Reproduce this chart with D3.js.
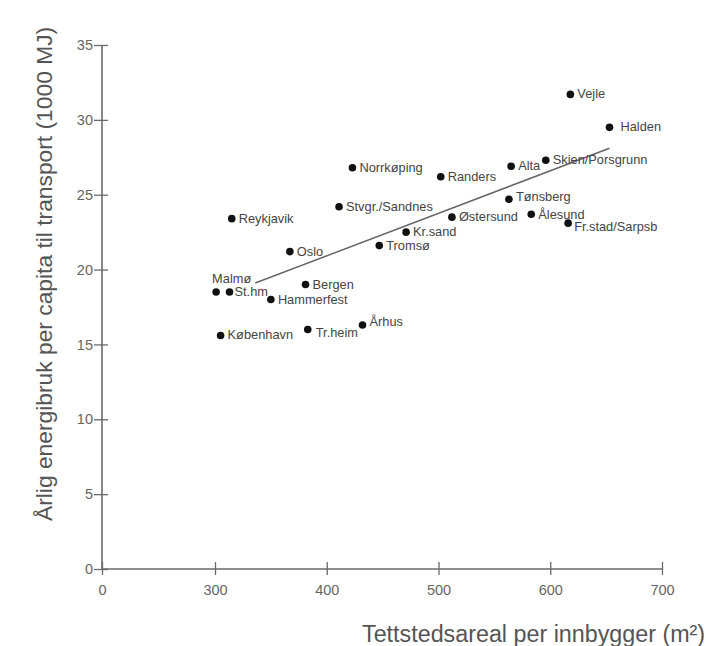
<!DOCTYPE html>
<html>
<head>
<meta charset="utf-8">
<script src="https://cdn.jsdelivr.net/npm/d3@7"></script>
<style>
  body { margin: 0; background: #fff; overflow: hidden; }
  text { font-family: "Liberation Sans", Arial, sans-serif; }
</style>
</head>
<body>
<div id="chart"></div>
<script>
  // Data
  var cities = ['Vejle', 'Halden', 'Norrkøping', 'Randers', 'Alta', 'Skien/Porsgrunn',
      'Tønsberg', 'Østersund', 'Ålesund', 'Fr.stad/Sarpsb', 'Stvgr./Sandnes', 'Reykjavik',
      'Kr.sand', 'Tromsø', 'Oslo', 'Bergen', 'Malmø', 'St.hm', 'Hammerfest', 'Århus',
      'Tr.heim', 'København'];
  var areal = [618, 653, 423, 502, 565, 596, 563, 512, 583, 616, 411, 315,
      471, 447, 367, 381, 301, 313, 350, 432, 383, 305];
  var energi = [31.7, 29.5, 26.8, 26.2, 26.9, 27.3, 24.7, 23.5, 23.7, 23.1, 24.2, 23.4,
      22.5, 21.6, 21.2, 19.0, 18.5, 18.5, 18.0, 16.3, 16.0, 15.6];
  var trendX = [336, 653];
  var trendY = [19.1, 28.1];
  var xTicks = [0, 300, 400, 500, 600, 700];
  var yTicks = [0, 5, 10, 15, 20, 25, 30, 35];

  // label offsets (layout only)
  var labelPos = {
      'Halden': [11, 4],
      'Malmø': [-4, -9],
      'St.hm': [5, 4],
      'Tønsberg': [7, 2],
      'Ålesund': [7, 5],
      'Fr.stad/Sarpsb': [6, 8],
      'Tr.heim': [8, 8],
      'Århus': [7, 1]
  };

  var width = 706;
  var height = 646;

  var svg = d3.select('#chart')
      .append('svg')
      .attr('width', width)
      .attr('height', height);

  // broken x axis: 0 then 300..700
  var x = d3.scaleLinear()
      .domain([0, 300, 700])
      .range([102, 215, 662]);

  var y = d3.scaleLinear()
      .domain([0, 35])
      .range([569, 45]);

  var axisColor = '#6a6a6a';

  // x axis
  var gx = svg.append('g')
      .attr('transform', 'translate(0,' + y(0) + ')')
      .call(d3.axisBottom(x).tickValues(xTicks).tickSize(6).tickFormat(d3.format('d')));
  gx.select('.domain').remove();
  gx.append('line')
      .attr('x1', x(0)).attr('x2', x(700))
      .attr('stroke', axisColor).attr('stroke-width', 1.6);
  gx.selectAll('.tick line')
      .attr('y1', -7).attr('y2', 6)
      .attr('stroke', axisColor).attr('stroke-width', 1.3);
  gx.selectAll('.tick text')
      .attr('y', 16)
      .attr('fill', '#666')
      .style('font-size', '14.5px');

  // y axis
  var gy = svg.append('g')
      .attr('transform', 'translate(' + x(0) + ',0)')
      .call(d3.axisLeft(y).tickValues(yTicks).tickSize(6));
  gy.select('.domain').remove();
  gy.append('line')
      .attr('y1', y(0)).attr('y2', y(35))
      .attr('stroke', axisColor).attr('stroke-width', 1.6);
  gy.selectAll('.tick line')
      .attr('x1', -8).attr('x2', 6)
      .attr('stroke', axisColor).attr('stroke-width', 1.3);
  gy.selectAll('.tick text')
      .attr('x', -9)
      .attr('fill', '#666')
      .style('font-size', '14.5px');

  // axis titles
  svg.append('text')
      .attr('x', 362)
      .attr('y', 642)
      .attr('fill', '#555')
      .style('font-size', '23.3px')
      .text('Tettstedsareal per innbygger (m²)');

  svg.append('text')
      .attr('transform', 'translate(52,521) rotate(-90)')
      .attr('fill', '#555')
      .style('font-size', '22.8px')
      .text('Årlig energibruk per capita til transport (1000 MJ)');

  // trend line
  svg.append('line')
      .attr('x1', x(trendX[0])).attr('y1', y(trendY[0]))
      .attr('x2', x(trendX[1])).attr('y2', y(trendY[1]))
      .attr('stroke', '#666')
      .attr('stroke-width', 1.5);

  var pts = cities.map(function(c, i) {
      return { city: c, areal: areal[i], energi: energi[i] };
  });

  // points
  svg.selectAll('.dot')
      .data(pts)
      .enter().append('circle')
      .attr('class', 'dot')
      .attr('cx', function(d) { return x(d.areal); })
      .attr('cy', function(d) { return y(d.energi); })
      .attr('r', 3.8)
      .attr('fill', '#111');

  // labels
  svg.selectAll('.lbl')
      .data(pts)
      .enter().append('text')
      .attr('class', 'lbl')
      .attr('x', function(d) {
          var o = labelPos[d.city] || [7, 4];
          return x(d.areal) + o[0];
      })
      .attr('y', function(d) {
          var o = labelPos[d.city] || [7, 4];
          return y(d.energi) + o[1];
      })
      .attr('fill', '#444')
      .style('font-size', '12.8px')
      .text(function(d) { return d.city; });
</script>
</body>
</html>
